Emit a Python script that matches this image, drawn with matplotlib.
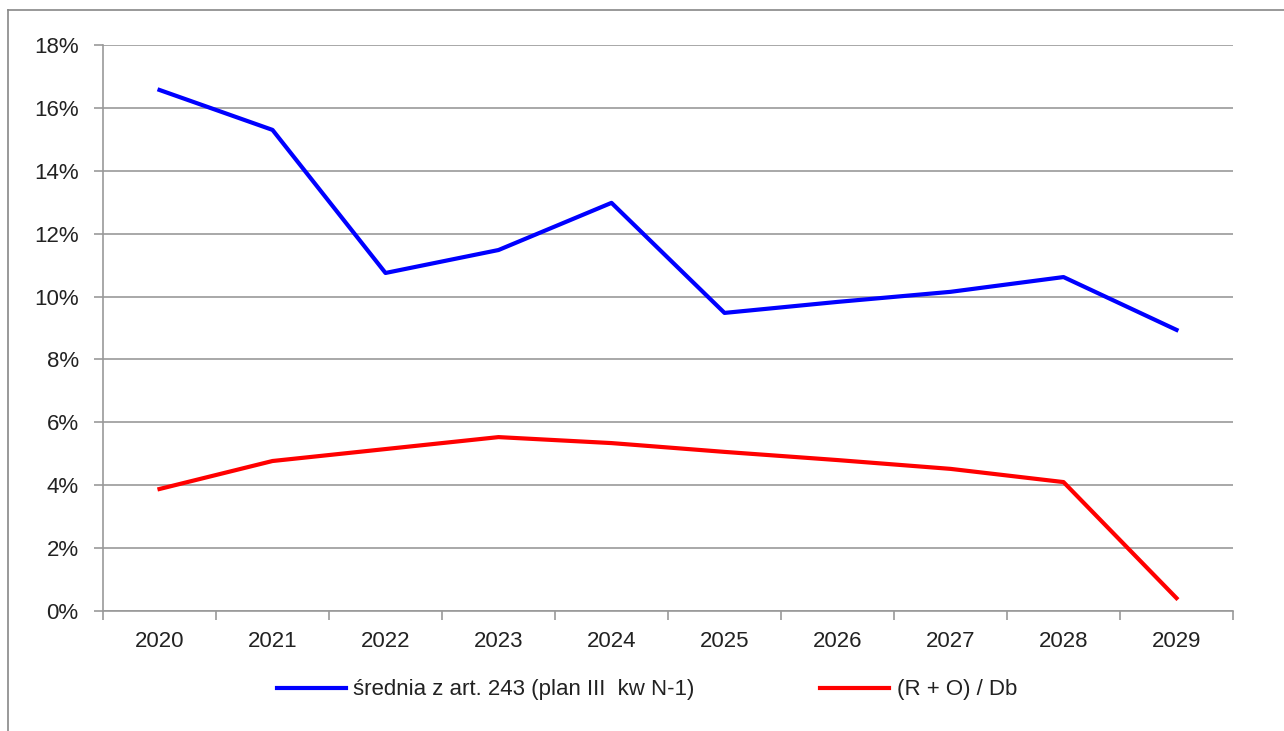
import matplotlib
matplotlib.use("Agg")
import matplotlib.pyplot as plt
from matplotlib.lines import Line2D
from matplotlib.ticker import FuncFormatter, FixedLocator

years = ["2020", "2021", "2022", "2023", "2024", "2025", "2026", "2027", "2028", "2029"]
srednia = [16.57, 15.3, 10.75, 11.48, 12.98, 9.48, 9.83, 10.15, 10.62, 8.94]
ro_db = [3.88, 4.77, 5.15, 5.53, 5.34, 5.06, 4.8, 4.52, 4.1, 0.41]
label_blue = "średnia z art. 243 (plan III  kw N-1)"
label_red = "(R + O) / Db"

plt.rcParams['font.family'] = ['Liberation Sans', 'DejaVu Sans']
W, H = 1284, 731
FS = 16
fig = plt.figure(figsize=(W / 100, H / 100), dpi=100)
ax = fig.add_axes([103 / W, 1 - 611 / H, (1233 - 103) / W, (611 - 45) / H])

x = list(range(len(years)))
ax.plot(x, srednia, color="#0000FF", lw=3, label=label_blue)
ax.plot(x, ro_db, color="#FF0000", lw=3, label=label_red)

ax.set_xlim(-0.5, len(years) - 0.5)
ax.set_ylim(0, 18)
ax.set_yticks(range(0, 19, 2))
ax.yaxis.set_major_formatter(FuncFormatter(lambda v, p: f"{int(v)}%"))
ax.set_xticks(x)
ax.set_xticklabels(years)
ax.xaxis.set_minor_locator(FixedLocator([i - 0.5 for i in range(len(years) + 1)]))
ax.tick_params(axis="x", which="major", length=0, pad=14.5, labelsize=FS, colors="#222222")
ax.tick_params(axis="x", which="minor", length=6.5, width=1.2, color="#999999")
ax.tick_params(axis="y", length=6.5, width=1.2, color="#999999", pad=11, labelsize=FS, labelcolor="#222222")

ax.grid(axis="y", color="#999999", lw=1.2)
ax.set_axisbelow(True)
for s in ["top", "right"]:
    ax.spines[s].set_visible(False)
for s in ["left", "bottom"]:
    ax.spines[s].set_color("#999999")
    ax.spines[s].set_linewidth(1.2)

# outer frame
fig.add_artist(Line2D([8 / W, 1.0], [1 - 10 / H, 1 - 10 / H], color="#888888", lw=1.2, transform=fig.transFigure))
fig.add_artist(Line2D([8 / W, 8 / W], [0, 1 - 10 / H], color="#888888", lw=1.2, transform=fig.transFigure))

fig.legend(loc="center", bbox_to_anchor=(647 / W, 1 - 690 / H), ncol=2, frameon=False,
           fontsize=FS, handlelength=3.1, handletextpad=0.35, columnspacing=5.65,
           labelcolor="#222222")

fig.savefig("out.png", dpi=100)
